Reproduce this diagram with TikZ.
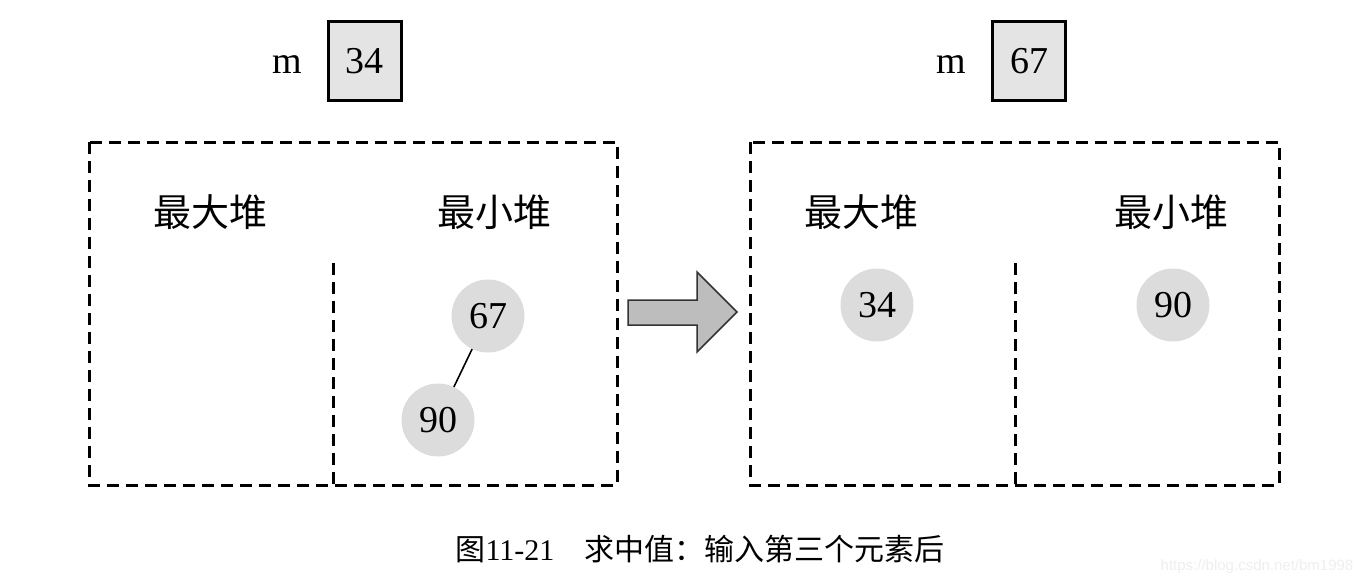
\documentclass[tikz,border=0pt]{standalone}
\usepackage{fontspec}
\setmainfont{Liberation Serif}
\newfontfamily\cjk{Noto Sans CJK SC}
\newfontfamily\wmfont{Liberation Sans}
\definecolor{boxgray}{HTML}{E4E4E4}
\definecolor{circgray}{HTML}{DCDCDC}
\definecolor{arrowgray}{HTML}{BDBDBD}
\definecolor{wmgray}{HTML}{EEEEEE}
\tikzset{
  mbox/.style={draw=black, line width=3pt, fill=boxgray, minimum width=73pt, minimum height=79pt, inner sep=0pt, font=\fontsize{38}{40}\selectfont},
  mlabel/.style={font=\fontsize{38}{40}\selectfont, inner sep=0pt},
  heapbox/.style={draw=black, line width=3pt, dash pattern=on 12pt off 7pt},
  heaplabel/.style={font=\cjk\fontsize{38}{40}\selectfont, inner sep=0pt},
  numcirc/.style={circle, fill=circgray, minimum size=73pt, inner sep=0pt, font=\fontsize{38}{40}\selectfont},
  bigarrow/.style={draw=black!80, line width=1.5pt, fill=arrowgray, line join=miter},
}
\begin{document}
\begin{tikzpicture}[x=1pt,y=-1pt]
\useasboundingbox (0,0) rectangle (1368,587);
% left panel
\node[mbox] (mb1) at (364.5,61) {34};
\node[mlabel] (m1) at (287,65) {m};
\draw[heapbox] (89,142) rectangle (617,485);
\coordinate (d1t) at (333,263);
\coordinate (d1b) at (333,485);
\draw[heapbox] (d1t) -- (d1b);
\node[heaplabel] (maxL) at (210,212) {最大堆};
\node[heaplabel] (minL) at (494,212) {最小堆};
\node[numcirc] (c67) at (488,316) {67};
\node[numcirc] (c90) at (438,420) {90};
\draw[line width=1.6pt] (c67) -- (c90);
% arrow
\draw[bigarrow] (628,300) -- (697,300) -- (697,272) -- (737,312) -- (697,352) -- (697,325) -- (628,325) -- cycle;
% right panel
\node[mbox] (mb2) at (1029,61) {67};
\node[mlabel] (m2) at (951,65) {m};
\draw[heapbox] (750,142) rectangle (1279,485);
\coordinate (d2t) at (1015,263);
\coordinate (d2b) at (1015,485);
\draw[heapbox] (d2t) -- (d2b);
\node[heaplabel] (maxR) at (861,212) {最大堆};
\node[heaplabel] (minR) at (1171,212) {最小堆};
\node[numcirc] (r34) at (877,305) {34};
\node[numcirc] (r90) at (1173,305) {90};
% caption
\node[inner sep=0pt, font=\fontsize{30}{32}\selectfont] (cap) at (700,549) {{\cjk 图}11-21{\cjk 　求中值：输入第三个元素后}};
\node[inner sep=0pt, text=wmgray, font=\wmfont\fontsize{15}{16}\selectfont] (wm) at (1257,567) {https://blog.csdn.net/bm1998};
\end{tikzpicture}
\end{document}
